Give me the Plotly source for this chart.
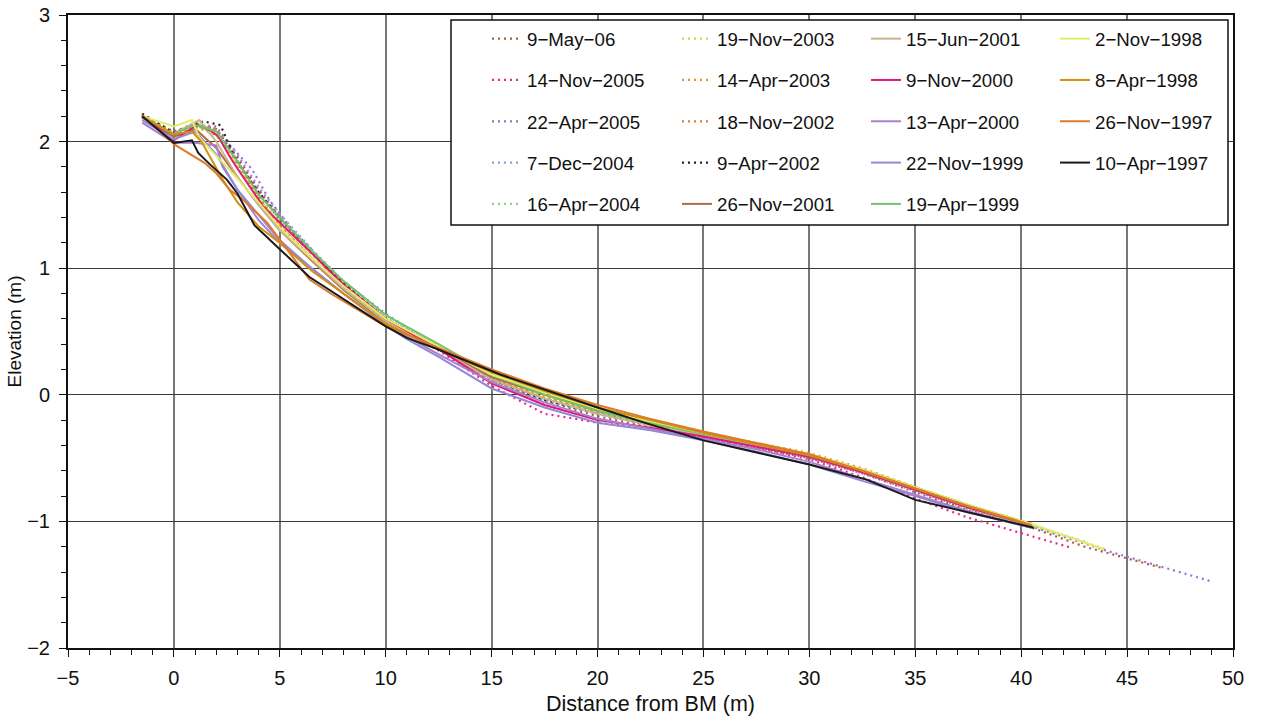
import plotly.graph_objects as go

M = "\u2212"
labels = ["9-May-06", "14-Nov-2005", "22-Apr-2005", "7-Dec-2004", "16-Apr-2004",
          "19-Nov-2003", "14-Apr-2003", "18-Nov-2002", "9-Apr-2002", "26-Nov-2001",
          "15-Jun-2001", "9-Nov-2000", "13-Apr-2000", "22-Nov-1999", "19-Apr-1999",
          "2-Nov-1998", "8-Apr-1998", "26-Nov-1997", "10-Apr-1997"]

colors = ["#a8603a", "#e8288c", "#9d6fd3", "#8b9fd8", "#8fd67a",
          "#c9d645", "#e39a12", "#e07a3a", "#222222", "#b06a45",
          "#c9b48e", "#e3167a", "#a97fcf", "#9489d6", "#72c46a",
          "#e2ec6a", "#d2900f", "#dc7a2c", "#1a1a1a"]

dashes = ["dot"] * 9 + ["solid"] * 10

XS = [-1.5, 0, 1, 2, 3, 4, 5, 6.5, 8, 10, 12.5, 15, 17.5, 20, 22.5, 25, 27.5, 30, 32.5, 35, 37.5, 40.5]

x_may06 = XS + [43, 46.7]
y_may06 = [2.2, 2.08, 2.14, 2.1, 1.86, 1.6, 1.38, 1.12, 0.88, 0.6, 0.38, 0.12, -0.05, -0.17, -0.26, -0.34, -0.42, -0.5, -0.62, -0.77, -0.91, -1.05, -1.2, -1.37]

x_nov05 = XS + [42.4]
y_nov05 = [2.19, 2.07, 2.15, 2.08, 1.88, 1.62, 1.4, 1.12, 0.87, 0.6, 0.35, 0.07, -0.15, -0.22, -0.27, -0.34, -0.42, -0.51, -0.65, -0.82, -0.97, -1.12, -1.21]

x_apr05 = [-1.5, 0, 1, 2, 2.6, 3.7, 4.5, 5.6, 6.4, 7.2, 8.2, 10, 12.5, 15, 17.5, 20, 22.5, 25, 27.5, 30, 32.5, 35, 37.5, 40.5, 44, 48.9]
y_apr05 = [2.21, 2.07, 2.13, 2.12, 1.98, 1.78, 1.54, 1.3, 1.17, 0.99, 0.87, 0.64, 0.37, 0.1, -0.08, -0.19, -0.27, -0.34, -0.41, -0.5, -0.62, -0.76, -0.9, -1.04, -1.23, -1.47]

x_dec04 = XS
y_dec04 = [2.2, 2.07, 2.14, 2.1, 1.9, 1.64, 1.43, 1.15, 0.9, 0.63, 0.38, 0.13, -0.04, -0.15, -0.24, -0.32, -0.4, -0.48, -0.6, -0.74, -0.88, -1.02]

x_apr04 = XS + [43]
y_apr04 = [2.22, 2.06, 2.15, 2.08, 1.85, 1.58, 1.38, 1.12, 0.88, 0.62, 0.38, 0.14, -0.03, -0.14, -0.23, -0.32, -0.4, -0.48, -0.6, -0.74, -0.88, -1.03, -1.16]

x_nov03 = XS + [44]
y_nov03 = [2.2, 2.05, 2.13, 2.05, 1.8, 1.55, 1.35, 1.1, 0.86, 0.6, 0.37, 0.14, -0.02, -0.13, -0.23, -0.32, -0.4, -0.48, -0.6, -0.74, -0.88, -1.03, -1.22]

x_apr03 = XS
y_apr03 = [2.2, 2.06, 2.12, 2.05, 1.82, 1.55, 1.33, 1.08, 0.85, 0.58, 0.36, 0.13, -0.02, -0.13, -0.22, -0.3, -0.38, -0.46, -0.58, -0.73, -0.88, -1.02]

x_nov02 = XS
y_nov02 = [2.19, 2.05, 2.13, 2.1, 1.84, 1.56, 1.34, 1.08, 0.85, 0.59, 0.36, 0.12, -0.03, -0.14, -0.23, -0.31, -0.39, -0.47, -0.6, -0.75, -0.89, -1.03]

x_apr02 = [-1.5, 0, 1.4, 2.2, 2.9, 4, 5, 6.5, 8, 10, 12.5, 15, 17.5, 20, 22.5, 25, 27.5, 30, 32.5, 35, 37.5, 40.5]
y_apr02 = [2.22, 2.07, 2.16, 2.13, 1.86, 1.6, 1.4, 1.13, 0.88, 0.6, 0.37, 0.12, -0.04, -0.15, -0.24, -0.32, -0.4, -0.49, -0.61, -0.75, -0.89, -1.03]

x_nov01 = XS
y_nov01 = [2.19, 2.04, 2.1, 1.95, 1.72, 1.5, 1.3, 1.06, 0.83, 0.57, 0.36, 0.14, 0.0, -0.12, -0.22, -0.31, -0.39, -0.48, -0.6, -0.74, -0.88, -1.03]

x_jun01 = [-1.5, 0, 1.2, 2, 3, 4, 5, 6.5, 8, 10, 12.5, 15, 17.5, 20, 22.5, 25, 27.5, 30, 32.5, 35, 37.5, 40.5]
y_jun01 = [2.2, 2.06, 2.17, 2.0, 1.72, 1.5, 1.3, 1.07, 0.84, 0.58, 0.36, 0.12, -0.03, -0.15, -0.24, -0.32, -0.4, -0.49, -0.61, -0.75, -0.89, -1.04]

x_nov00 = [-1.5, 0, 1.07, 1.7, 2.1, 2.64, 3.03, 4.2, 5, 6.5, 8, 10, 12.5, 15, 17.5, 20, 22.5, 25, 27.5, 30, 32.5, 35, 37.5, 40.5]
y_nov00 = [2.2, 2.01, 2.13, 2.09, 2.04, 1.88, 1.78, 1.49, 1.36, 1.12, 0.87, 0.6, 0.36, 0.09, -0.08, -0.2, -0.26, -0.33, -0.41, -0.49, -0.61, -0.75, -0.89, -1.03]

x_apr00 = [-1.5, 0, 1, 2, 2.3, 3, 4, 5, 6.5, 8, 10, 12.5, 15, 17.5, 20, 22.5, 25, 27.5, 30, 32.5, 35, 37.5, 40.5]
y_apr00 = [2.15, 1.99, 1.99, 1.97, 1.8, 1.62, 1.38, 1.2, 1.0, 0.8, 0.55, 0.32, 0.1, -0.06, -0.19, -0.27, -0.35, -0.43, -0.53, -0.66, -0.79, -0.92, -1.05]

x_nov99 = [-1.5, 0, 1, 2, 3, 4, 5, 6.5, 8, 10, 11, 12.5, 15, 17.5, 20, 22.5, 25, 27.5, 30, 32.5, 35, 37.5, 40.5]
y_nov99 = [2.17, 2.02, 2.08, 1.9, 1.62, 1.42, 1.22, 1.0, 0.8, 0.55, 0.44, 0.3, 0.05, -0.1, -0.22, -0.28, -0.36, -0.45, -0.55, -0.68, -0.8, -0.93, -1.05]

x_apr99 = XS
y_apr99 = [2.2, 2.06, 2.13, 2.08, 1.84, 1.58, 1.4, 1.14, 0.9, 0.63, 0.4, 0.16, 0.0, -0.13, -0.22, -0.31, -0.39, -0.47, -0.59, -0.73, -0.87, -1.02]

x_nov98 = [-1.5, 0, 0.85, 1.2, 2.5, 4, 5, 6.5, 8, 10, 12.5, 15, 17.5, 20, 22.5, 25, 27.5, 30, 32.5, 35, 37.5, 40.5, 43.9]
y_nov98 = [2.2, 2.12, 2.17, 2.03, 1.8, 1.52, 1.32, 1.08, 0.86, 0.6, 0.38, 0.16, 0.02, -0.11, -0.21, -0.3, -0.38, -0.47, -0.59, -0.73, -0.87, -1.02, -1.22]

x_apr98 = [-1.5, 0, 0.85, 1.3, 2.3, 3, 4, 5, 6.5, 8, 10, 12.5, 15, 17.5, 20, 22.5, 25, 27.5, 30, 32.5, 35, 37.5, 40.5]
y_apr98 = [2.2, 2.06, 2.08, 2.0, 1.7, 1.52, 1.33, 1.2, 0.98, 0.8, 0.56, 0.36, 0.18, 0.03, -0.1, -0.2, -0.3, -0.39, -0.48, -0.6, -0.74, -0.88, -1.03]

x_nov97 = [-1.5, 0, 1.46, 2, 2.64, 3.27, 4.4, 6.4, 7.4, 9.9, 12.5, 15, 17.5, 20, 22.5, 25, 27.5, 30, 32.5, 35, 37.5, 40.5]
y_nov97 = [2.21, 1.98, 1.83, 1.75, 1.62, 1.54, 1.36, 0.91, 0.8, 0.55, 0.37, 0.2, 0.05, -0.08, -0.19, -0.29, -0.38, -0.47, -0.6, -0.74, -0.88, -1.03]

x_apr97 = [-1.5, 0, 0.85, 1.15, 1.7, 2.5, 3, 3.8, 5, 6.4, 10, 11, 12.3, 15.4, 20, 22.2, 25, 30, 32.7, 35, 40.6]
y_apr97 = [2.2, 1.99, 2.01, 1.91, 1.82, 1.7, 1.59, 1.34, 1.15, 0.93, 0.54, 0.45, 0.37, 0.16, -0.1, -0.22, -0.36, -0.55, -0.67, -0.83, -1.05]

xs = [x_may06, x_nov05, x_apr05, x_dec04, x_apr04, x_nov03, x_apr03, x_nov02, x_apr02, x_nov01,
      x_jun01, x_nov00, x_apr00, x_nov99, x_apr99, x_nov98, x_apr98, x_nov97, x_apr97]
ys = [y_may06, y_nov05, y_apr05, y_dec04, y_apr04, y_nov03, y_apr03, y_nov02, y_apr02, y_nov01,
      y_jun01, y_nov00, y_apr00, y_nov99, y_apr99, y_nov98, y_apr98, y_nov97, y_apr97]

W, H = 1263, 722
L, R, T, B = 68, 30, 15, 74
pw, ph = W - L - R, H - T - B

def px(xp):
    return (xp - L) / pw

def py(yp):
    return (H - B - yp) / ph

legend_names = ["legend", "legend2", "legend3", "legend4"]
fig = go.Figure()
for i, lab in enumerate(labels):
    col = i // 5
    solid = dashes[i] == "solid"
    fig.add_trace(go.Scatter(
        x=xs[i], y=ys[i], mode="lines",
        name=lab.replace("-", M),
        line=dict(color=colors[i], width=2 if solid else 2.2,
                  dash="solid" if solid else "2px,4px"),
        legend=legend_names[col], legendgroup="g%d" % i,
    ))

font = "Arial, 'Liberation Sans', Helvetica, sans-serif"
col_text_x = [528, 718, 907, 1096]
layout_legends = {}
for c, nm in enumerate(legend_names):
    layout_legends[nm] = dict(
        x=px(col_text_x[c] - 41), y=py(20), xanchor="left", yanchor="top",
        orientation="v", bgcolor="rgba(0,0,0,0)", borderwidth=0,
        font=dict(family=font, size=18.7, color="#111"),
        tracegroupgap=14, itemwidth=30,
    )

fig.update_layout(
    width=W, height=H,
    margin=dict(l=L, r=R, t=T, b=B, autoexpand=False),
    paper_bgcolor="white", plot_bgcolor="white",
    font=dict(family=font, size=20, color="#111"),
    showlegend=True,
    **layout_legends,
    shapes=[dict(type="rect", xref="paper", yref="paper",
                 x0=px(451), x1=px(1228), y0=py(225), y1=py(20),
                 fillcolor="white", line=dict(color="#111", width=1.5), layer="above")],
)
fig.update_xaxes(
    range=[-5, 50], dtick=5, tick0=0, automargin=False,
    showgrid=True, gridcolor="#777777", gridwidth=1.5, zeroline=False,
    showline=True, linecolor="#111", linewidth=2, mirror=True,
    ticks="outside", ticklen=7, tickcolor="#111", tickwidth=1,
    ticklabelstandoff=4,
    minor=dict(dtick=1, ticks="outside", ticklen=5, tickcolor="#111", showgrid=False),
    tickfont=dict(size=20, color="#111"),
    title=dict(text="Distance from BM (m)", font=dict(size=21.5, color="#111"), standoff=8),
)
fig.update_yaxes(
    range=[-2, 3], dtick=1, tick0=0, automargin=False,
    showgrid=True, gridcolor="#3a3a3a", gridwidth=1, zeroline=False,
    showline=True, linecolor="#111", linewidth=2, mirror=True,
    ticks="outside", ticklen=7, tickcolor="#111", tickwidth=1,
    ticklabelstandoff=5,
    minor=dict(dtick=0.2, ticks="outside", ticklen=5, tickcolor="#111", showgrid=False),
    tickfont=dict(size=20, color="#111"),
    title=dict(text="Elevation (m)", font=dict(size=19, color="#111"), standoff=1),
)

fig.write_html("out.html")
